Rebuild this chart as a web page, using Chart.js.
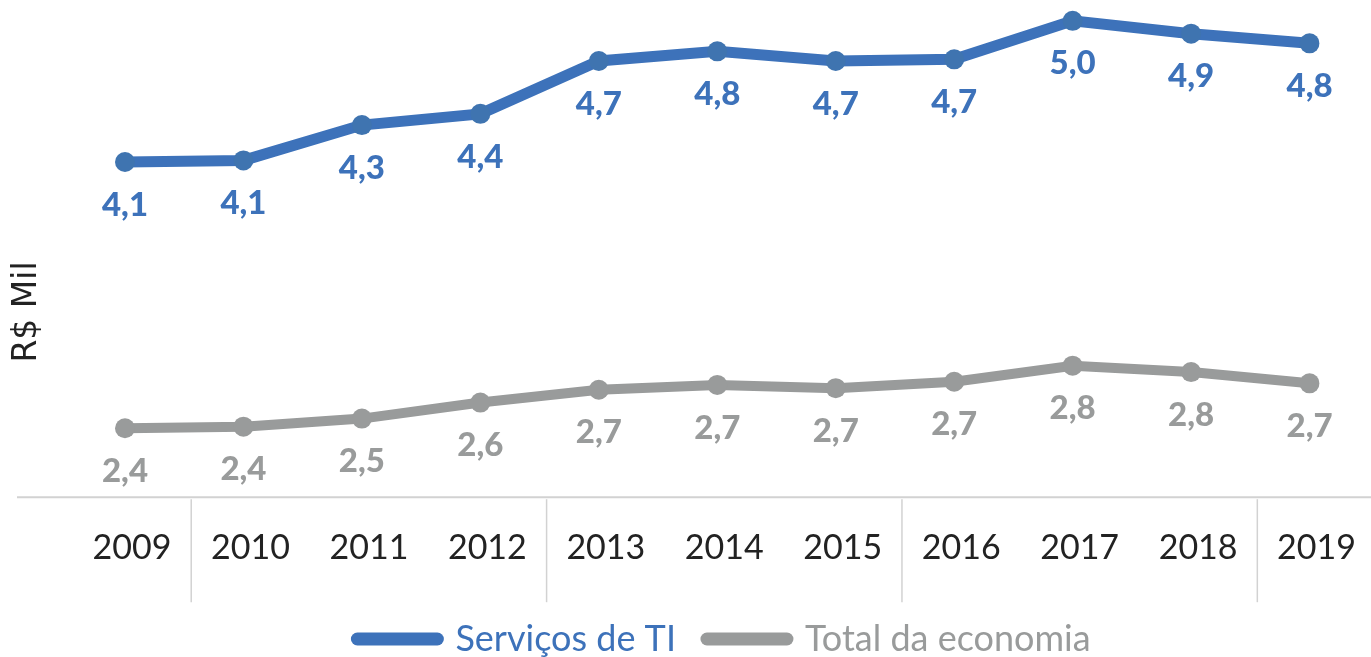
<!DOCTYPE html>
<html>
<head>
<meta charset="utf-8">
<script src="https://cdn.jsdelivr.net/npm/chart.js@4/dist/chart.umd.min.js"></script>
<style>
  html, body { margin: 0; padding: 0; background: #fff; }
  #wrap { width: 1371px; height: 657px; position: relative; }
</style>
</head>
<body>
<div id="wrap"><canvas id="chart"></canvas></div>
<script>
const years = ['2009', '2010', '2011', '2012', '2013', '2014', '2015', '2016', '2017', '2018', '2019'];
const servicosTI = [4.09, 4.10, 4.32, 4.39, 4.72, 4.78, 4.72, 4.73, 4.97, 4.89, 4.83];
const totalEconomia = [2.43, 2.44, 2.49, 2.59, 2.67, 2.70, 2.68, 2.72, 2.82, 2.78, 2.71];
const seriesNames = ['Serviços de TI', 'Total da economia'];
const yTitle = 'R$ Mil';

const blue = '#3D72BA';
const gray = '#999B9B';
const font = 'Lato, "Open Sans", sans-serif';

// valores abaixo de cada ponto
const pointLabels = {
  id: 'pointLabels',
  afterDatasetsDraw(chart) {
    const ctx = chart.ctx;
    ctx.save();
    ctx.font = '900 33px ' + font;
    ctx.textAlign = 'center';
    ctx.textBaseline = 'middle';
    chart.data.datasets.forEach((ds, i) => {
      const meta = chart.getDatasetMeta(i);
      ctx.fillStyle = ds.borderColor;
      meta.data.forEach((pt, j) => {
        const txt = ds.data[j].toFixed(1).replace('.', ',');
        ctx.fillText(txt, pt.x, pt.y + 43);
      });
    });
    ctx.restore();
  }
};

// linha base, separadores e titulo do eixo
const axisDecor = {
  id: 'axisDecor',
  beforeDatasetsDraw(chart) {
    const ctx = chart.ctx;
    const x = chart.scales.x;
    const bottom = chart.chartArea.bottom;
    ctx.save();
    ctx.strokeStyle = '#d2d2d2';
    ctx.lineWidth = 2;
    ctx.beginPath();
    ctx.moveTo(17, bottom);
    ctx.lineTo(chart.width, bottom);
    ctx.stroke();
    ctx.lineWidth = 1.5;
    [0, 3, 6, 9].forEach(i => {
      const px = (x.getPixelForValue(i) + x.getPixelForValue(i + 1)) / 2 + 7;
      ctx.beginPath();
      ctx.moveTo(px, bottom + 2);
      ctx.lineTo(px, bottom + 105);
      ctx.stroke();
    });
    ctx.fillStyle = '#222';
    ctx.font = '33px "DejaVu Sans", sans-serif';
    ctx.textAlign = 'center';
    ctx.textBaseline = 'middle';
    ctx.translate(27, 312);
    ctx.rotate(-Math.PI / 2);
    ctx.fillText(yTitle, 0, 0);
    ctx.restore();
  }
};

new Chart(document.getElementById('chart'), {
  type: 'line',
  data: {
    labels: years,
    datasets: [
      {
        label: seriesNames[0],
        data: servicosTI,
        borderColor: blue,
        backgroundColor: blue,
        borderWidth: 11,
        pointRadius: 10,
        pointHoverRadius: 10,
        pointBackgroundColor: '#3F74B0',
        pointBorderWidth: 0,
        tension: 0
      },
      {
        label: seriesNames[1],
        data: totalEconomia,
        borderColor: gray,
        backgroundColor: gray,
        borderWidth: 10,
        pointRadius: 10,
        pointHoverRadius: 10,
        pointBackgroundColor: gray,
        pointBorderWidth: 0,
        tension: 0
      }
    ]
  },
  options: {
    responsive: true,
    maintainAspectRatio: false,
    animation: false,
    layout: { autoPadding: false, padding: { left: 125, right: 48, top: 0, bottom: -10 } },
    plugins: {
      tooltip: { enabled: false },
      legend: {
        position: 'bottom',
        labels: {
          usePointStyle: true,
          pointStyleWidth: 80,
          padding: 31,
          font: { family: font, size: 36 },
          generateLabels: chart => chart.data.datasets.map((ds, i) => ({
            text: ds.label,
            fillStyle: ds.borderColor,
            strokeStyle: ds.borderColor,
            fontColor: ds.borderColor,
            lineWidth: 13,
            lineCap: 'round',
            pointStyle: 'line',
            datasetIndex: i
          }))
        }
      }
    },
    scales: {
      x: {
        offset: false,
        grid: { display: false },
        border: { display: false },
        ticks: {
          color: '#222',
          padding: 22,
          labelOffset: 7,
          maxRotation: 0,
          autoSkip: false,
          font: { family: font, size: 34 }
        }
      },
      y: {
        display: false,
        min: 2.0,
        max: 5.1
      }
    }
  },
  plugins: [pointLabels, axisDecor]
});
</script>
</body>
</html>
